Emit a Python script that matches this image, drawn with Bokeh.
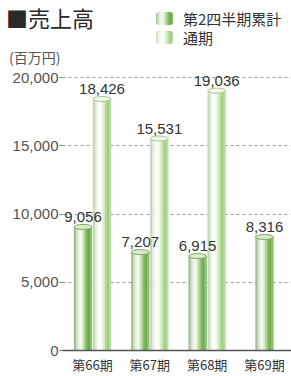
import numpy as np
from bokeh.plotting import figure
from bokeh.layouts import column
from bokeh.models import (ColumnDataSource, Range1d, LabelSet, Div,
                          FixedTicker, NumeralTickFormatter)
from bokeh.core.properties import value
from bokeh.embed import file_html
from bokeh.resources import INLINE

# ---- data ----
periods = ["第66期", "第67期", "第68期", "第69期"]
q2_values = [9056, 7207, 6915, 8316]
annual_values = [18426, 15531, 19036, None]
y_ticks = [0, 5000, 10000, 15000, 20000]
title_text = "■売上高"
unit_text = "(百万円)"
legend_labels = ["第2四半期累計", "通期"]

# ---- styling ----
CJK = "Noto Sans CJK JP"
NUM = "Liberation Sans"
q2_grad = ["#a2ba96", "#cddec2", "#eaf2e4", "#f6faf2", "#d6eac6", "#a8d28a",
           "#7ab658", "#6aa848", "#8cbe70"]
an_grad = ["#c4d6b8", "#e2ecda", "#f6faf2", "#ffffff", "#f2f8ec", "#d8ecc6",
           "#b6dc9a", "#9ccc7c", "#b8dca4"]
bar_w = 0.314
off = 0.166
W = 291
HEAD_H = 66


def grad_css(g):
    return "linear-gradient(to right, " + ", ".join(g) + ")"


# ---------------- header (title, unit, legend) ----------------
header_html = f"""
<div style="position:relative;width:{W}px;height:{HEAD_H}px;font-family:'{CJK}';">
  <span style="position:absolute;left:6px;top:4px;font-size:22px;line-height:26px;color:#2a2a2a;white-space:nowrap;">{title_text}</span>
  <span style="position:absolute;left:9px;top:49px;font-size:14px;line-height:16px;color:#555555;white-space:nowrap;">{unit_text}</span>
  <span style="position:absolute;left:156px;top:12px;width:17px;height:13px;border-radius:3px;background:{grad_css(q2_grad)};"></span>
  <span style="position:absolute;left:183px;top:10px;font-size:15px;line-height:17px;color:#333333;white-space:nowrap;">{legend_labels[0]}</span>
  <span style="position:absolute;left:156px;top:31px;width:17px;height:13px;border-radius:3px;background:{grad_css(an_grad)};"></span>
  <span style="position:absolute;left:183px;top:29px;font-size:15px;line-height:17px;color:#333333;white-space:nowrap;">{legend_labels[1]}</span>
</div>
"""
head = Div(text=header_html, width=W, height=HEAD_H, margin=0)

# ---------------- main chart ----------------
p = figure(width=W, output_backend="svg", toolbar_location=None,
           frame_height=284,
           x_range=Range1d(-0.523, 3.471), y_range=Range1d(0, 20806),
           min_border_left=62, min_border_right=0, min_border_top=0, min_border_bottom=20)
p.outline_line_color = None

xs = np.arange(len(periods))
q2_x = [x - off if a is not None else x for x, a in zip(xs, annual_values)]
an_x = [x + off for x, a in zip(xs, annual_values) if a is not None]
an_top = [a for a in annual_values if a is not None]


def slices(centers, tops, grad, width):
    K = len(grad)
    d = dict(x=[], top=[], color=[])
    for xc, t in zip(centers, tops):
        for k, c in enumerate(grad):
            d["x"].append(xc + (k + 0.5 - K / 2) * width / K)
            d["top"].append(t)
            d["color"].append(c)
    return d


for centers, tops, grad, cap_fill, cap_line in [
        (q2_x, q2_values, q2_grad, "#dcead2", "#7aae5c"),
        (an_x, an_top, an_grad, "#f0f7ea", "#a4cc88")]:
    src = ColumnDataSource(slices(centers, tops, grad, bar_w))
    p.vbar(x="x", top="top", bottom=0, width=bar_w / len(grad) * 1.15,
           fill_color="color", line_color=None, source=src)
    p.ellipse(x=centers, y=tops, width=bar_w, height=5, height_units="screen",
              fill_color=cap_fill, line_color=cap_line, line_width=1)

# value labels
lab_src = ColumnDataSource(dict(
    x=list(q2_x) + an_x,
    y=list(q2_values) + an_top,
    t=[f"{v:,}" for v in q2_values] + [f"{v:,}" for v in an_top]))
p.add_layout(LabelSet(x="x", y="y", text="t", source=lab_src, y_offset=5,
                      text_align="center", text_baseline="bottom",
                      text_font=value(NUM), text_font_size="15px", text_color="#333333"))

# axes
p.xaxis.ticker = FixedTicker(ticks=list(xs))
p.xaxis.major_label_overrides = {int(i): s for i, s in zip(xs, periods)}
p.xaxis.major_label_text_font = CJK
p.xaxis.major_label_text_font_size = "13px"
p.xaxis.major_label_text_color = "#333333"
p.xaxis.major_label_standoff = 4
p.xaxis.major_tick_line_color = None
p.xaxis.major_tick_out = 0
p.xaxis.major_tick_in = 0
p.xaxis.minor_tick_line_color = None
p.xaxis.axis_line_color = "#555555"
p.xaxis.axis_line_width = 1.5

p.yaxis.ticker = FixedTicker(ticks=y_ticks)
p.yaxis.formatter = NumeralTickFormatter(format="0,0")
p.yaxis.axis_line_color = None
p.yaxis.major_tick_in = 0
p.yaxis.major_tick_out = 3
p.yaxis.major_tick_line_color = "#777777"
p.yaxis.minor_tick_line_color = None
p.yaxis.major_label_standoff = 1
p.yaxis.major_label_text_font = NUM
p.yaxis.major_label_text_font_size = "15px"
p.yaxis.major_label_text_color = "#555555"

p.xgrid.grid_line_color = None
p.ygrid.grid_line_color = "#9a9a9a"
p.ygrid.grid_line_dash = "3 3"
p.ygrid.grid_line_width = 1

layout = column(head, p, spacing=0)
open("out.html", "w").write(file_html(layout, INLINE))
